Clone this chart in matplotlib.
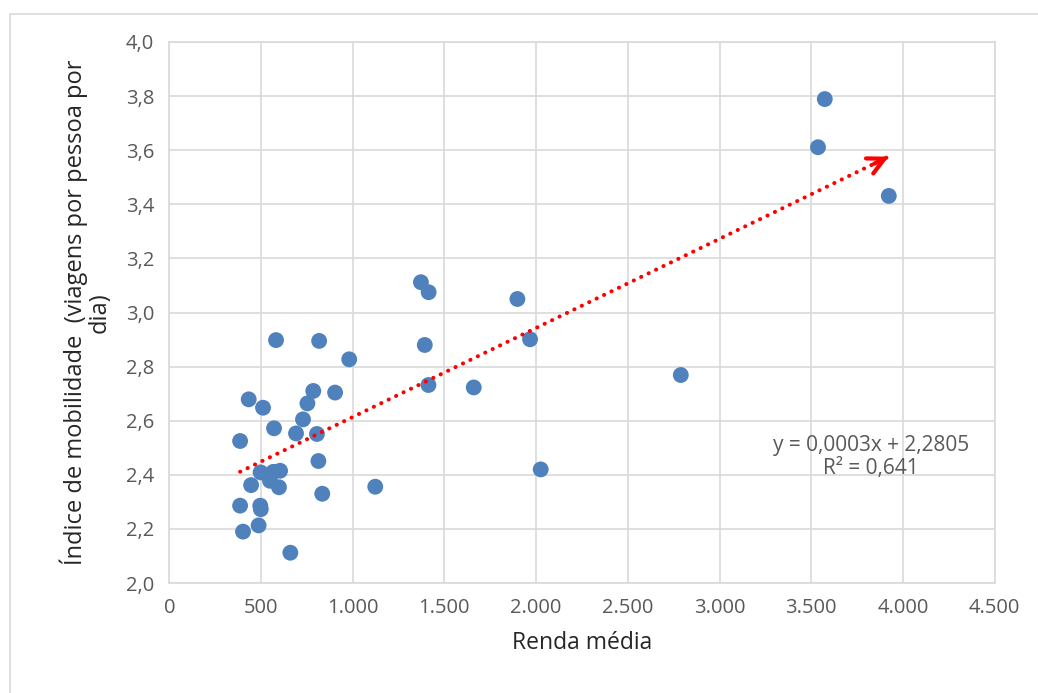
import numpy as np
import matplotlib
matplotlib.use("Agg")
import matplotlib.pyplot as plt
from matplotlib.patches import Rectangle
from matplotlib.ticker import FuncFormatter

plt.rcParams['font.family'] = ['Open Sans', 'DejaVu Sans']

# Average income vs. mobility index (trips per person per day)
renda = [386, 386, 402, 433, 446, 487, 496, 499, 511, 498, 567, 604, 549, 598,
         571, 582, 817, 981, 785, 904, 753, 729, 691, 805, 813, 834, 660, 1123,
         1393, 1413, 1372, 1414, 1898, 1967, 1660, 2025, 2789, 3574, 3537, 3923]
mobilidade = [2.525, 2.286, 2.190, 2.679, 2.362, 2.213, 2.286, 2.273, 2.648, 2.409,
              2.411, 2.415, 2.378, 2.354, 2.572, 2.898, 2.895, 2.827, 2.710, 2.704,
              2.664, 2.605, 2.553, 2.551, 2.451, 2.330, 2.112, 2.356, 2.880, 2.732,
              3.112, 3.075, 3.050, 2.901, 2.723, 2.420, 2.769, 3.789, 3.611, 3.431]

x_ticks = [0, 500, 1000, 1500, 2000, 2500, 3000, 3500, 4000, 4500]
y_ticks = [2.0, 2.2, 2.4, 2.6, 2.8, 3.0, 3.2, 3.4, 3.6, 3.8, 4.0]
equacao = "y = 0,0003x + 2,2805\nR² = 0,641"

fig = plt.figure(figsize=(10.38, 6.93), dpi=100)
ax = fig.add_axes([0.1631, 0.1587, 0.7951, 0.7807])

# outer chart frame
fig.patches.append(Rectangle((10 / 1038, -0.05), 1.2, 1 - 14 / 693 + 0.05,
                             transform=fig.transFigure, fill=False,
                             edgecolor='#d9d9d9', lw=1.2))

ax.scatter(renda, mobilidade, s=130, color='#4f81bd', edgecolors='none', zorder=3)

# linear trend line
coef = np.polyfit(renda, mobilidade, 1)
xs = np.array([min(renda), max(renda)])
ys = np.polyval(coef, xs)
ax.plot(xs, ys, color='red', lw=2.9, linestyle=(0, (0.05, 2.0)),
        dash_capstyle='round', zorder=4)
ax.annotate('', xy=(xs[1], ys[1]), xytext=(xs[1] - 80, ys[1] - 80 * coef[0]),
            arrowprops=dict(arrowstyle='->', color='red', lw=3,
                            mutation_scale=30, shrinkA=0, shrinkB=0), zorder=5)

ax.text(3825, 2.466, equacao, ha='center', va='center', fontsize=15,
        color='#595959', linespacing=1.15)

ax.set_xlim(0, 4500)
ax.set_ylim(2.0, 4.0)
ax.set_xticks(x_ticks)
ax.set_yticks(y_ticks)
ax.xaxis.set_major_formatter(FuncFormatter(lambda v, p: f"{int(v):,}".replace(",", ".")))
ax.yaxis.set_major_formatter(FuncFormatter(lambda v, p: f"{v:.1f}".replace(".", ",")))
ax.tick_params(length=0, labelsize=14.5, labelcolor='#595959', pad=11)
ax.grid(True, color='#d9d9d9', lw=1.2)
ax.set_axisbelow(True)
for s in ax.spines.values():
    s.set_color('#d9d9d9')
    s.set_linewidth(1.2)

ax.set_xlabel("Renda média", fontsize=16.5, color='#262626', labelpad=9)
ax.set_ylabel("Índice de mobilidade  (viagens por pessoa por\ndia)", fontsize=17,
              color='#262626', labelpad=10, linespacing=1.0)

fig.savefig("out.png", dpi=100)
